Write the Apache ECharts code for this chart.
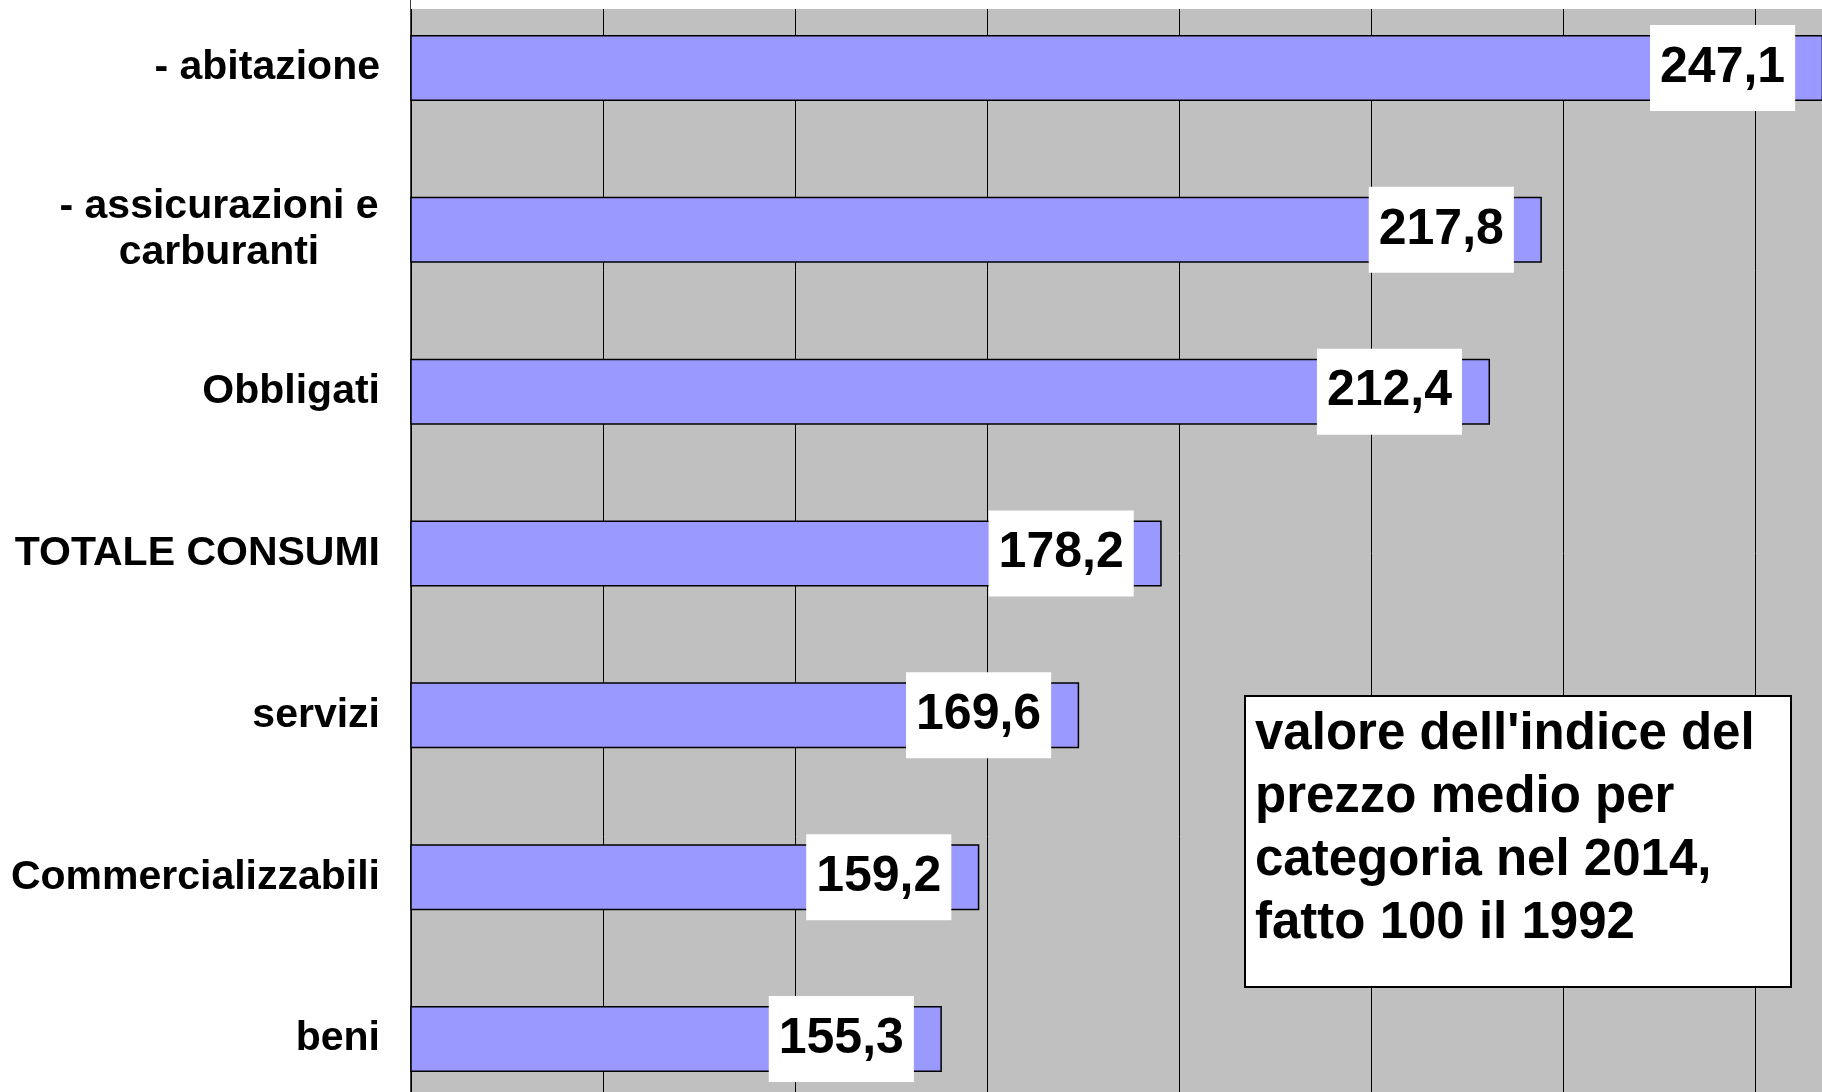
<!DOCTYPE html>
<html lang="it">
<head>
    <meta charset="UTF-8">
    <title>Indice prezzi</title>
    <script src="https://cdn.jsdelivr.net/npm/echarts@6/dist/echarts.min.js"></script>
    <style>
        html, body { margin: 0; padding: 0; background: #fff; width: 1822px; height: 1092px; overflow: hidden; position: relative; }
        /* il grafico originale e' tagliato: il contenitore sborda a destra, sopra e sotto */
        #chart { position: absolute; left: 0; top: -13px; width: 1947px; height: 1133px; }
    </style>
</head>
<body>
<div id="chart"></div>

<script>
    // categorie dall'alto in basso
    var categories = ['- abitazione', '- assicurazioni e\ncarburanti', 'Obbligati', 'TOTALE CONSUMI',
        'servizi', 'Commercializzabili', 'beni'];
    var values = [247.1, 217.8, 212.4, 178.2, 169.6, 159.2, 155.3];
    var noteText = "valore dell'indice del\nprezzo medio per\ncategoria nel 2014,\nfatto 100 il 1992";

    var myChart = echarts.init(document.getElementById('chart'));

    var option = {
        backgroundColor: '#fff',
        animation: false,
        textStyle: { fontFamily: 'Liberation Sans, Arial, sans-serif' },
        grid: {
            left: 411,
            right: 0,
            top: 0,
            bottom: 0,
            show: true,
            backgroundColor: '#C0C0C0',
            borderWidth: 0
        },
        xAxis: {
            type: 'value',
            min: 100,
            max: 260,
            interval: 20,
            axisLabel: { show: false },
            axisLine: { show: false },
            axisTick: { show: false },
            splitLine: { show: true, lineStyle: { color: '#000', width: 1 } }
        },
        yAxis: {
            type: 'category',
            inverse: true,
            data: categories,
            axisLine: { show: true, lineStyle: { color: '#000', width: 1.5 } },
            axisTick: { show: false },
            axisLabel: {
                margin: 31,
                color: '#000',
                fontSize: 41,
                fontWeight: 'bold',
                lineHeight: 46,
                align: 'right',
                formatter: function (v) {
                    if (v.indexOf('\n') < 0) return v;
                    return v.split('\n').map(function (s) { return '{c|' + s + '}'; }).join('\n');
                },
                rich: {
                    c: { width: 322, align: 'center', fontSize: 41, fontWeight: 'bold', lineHeight: 46, color: '#000' }
                }
            }
        },
        series: [{
            type: 'bar',
            data: values,
            barWidth: 66,
            itemStyle: { color: '#9999FF', borderColor: '#000', borderWidth: 1.5 },
            label: {
                show: true,
                position: 'insideRight',
                distance: 28,
                color: '#000',
                fontSize: 50,
                fontWeight: 'bold',
                lineHeight: 58,
                backgroundColor: '#fff',
                padding: [14, 10, 14, 10],
                formatter: function (p) { return p.value.toFixed(1).replace('.', ','); }
            }
        }],
        graphic: [
            {
                // striscia bianca in alto
                type: 'rect', z: 100,
                shape: { x: 411, y: 0, width: 1536, height: 22 },
                style: { fill: '#fff' }
            },
            {
                type: 'rect', z: 100,
                shape: { x: 1245, y: 709, width: 546, height: 291 },
                style: { fill: '#fff', stroke: '#000', lineWidth: 2 }
            },
            {
                type: 'text', z: 101,
                left: 1255, top: 716,
                style: {
                    text: noteText,
                    fill: '#000',
                    font: 'bold 51px Liberation Sans, Arial, sans-serif',
                    lineHeight: 63
                }
            }
        ]
    };

    myChart.setOption(option);
</script>
</body>
</html>
